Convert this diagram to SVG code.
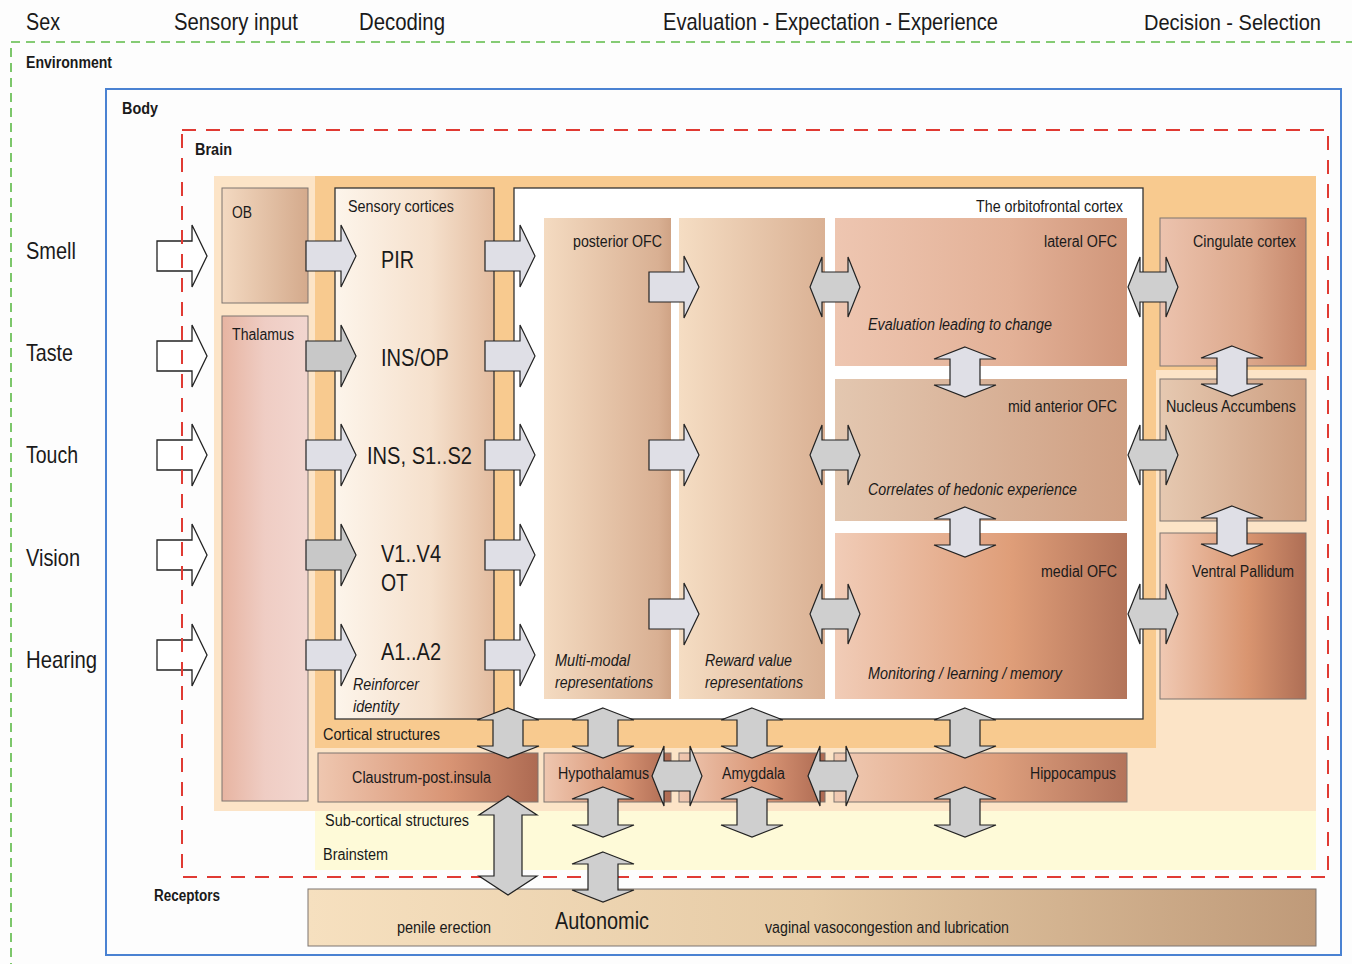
<svg xmlns="http://www.w3.org/2000/svg" xmlns:xlink="http://www.w3.org/1999/xlink" width="1352" height="964" viewBox="0 0 1352 964">
<style>
text{font-family:"Liberation Sans Narrow","Liberation Sans",Arial,sans-serif;fill:#1a1a1a}
.h{font-size:24px}
.b{font-size:16px;font-weight:bold}
.s{font-size:16px}
.m{font-size:23px}
.i{font-size:16px;font-style:italic}
.box{stroke:#7d7570;stroke-width:1}
.aw{fill:#ffffff;stroke:#222;stroke-width:1.3}
.al{fill:#dfdfe6;stroke:#222;stroke-width:1.2}
.ad{fill:#c8c8c8;stroke:#222;stroke-width:1.2}
.ag{fill:#cfcfcf;stroke:#222;stroke-width:1.2}
</style>
<defs>
<path id="ar" d="M0,-15 H35 V-31 L50,0 L35,31 V15 H0 Z"/>
<path id="dh" d="M0,0 L12,-30 V-15 H38 V-30 L50,0 L38,30 V15 H12 V30 Z"/>
<path id="dv" d="M0,0 L31,12 H15 V38 H31 L0,50 L-31,38 H-15 V12 H-31 Z"/>
<linearGradient id="gOB"><stop offset="0" stop-color="#f3d9c1"/><stop offset="1" stop-color="#d4aa8c"/></linearGradient>
<linearGradient id="gTh"><stop offset="0" stop-color="#e7b4a1"/><stop offset="0.5" stop-color="#efcdc4"/><stop offset="1" stop-color="#f2d6cf"/></linearGradient>
<linearGradient id="gSe"><stop offset="0" stop-color="#fdf5eb"/><stop offset="0.6" stop-color="#f5e0cc"/><stop offset="1" stop-color="#e3bc9f"/></linearGradient>
<linearGradient id="gPo"><stop offset="0" stop-color="#f4dbc1"/><stop offset="0.9" stop-color="#d9b093"/><stop offset="1" stop-color="#cfa385"/></linearGradient>
<linearGradient id="gRe"><stop offset="0" stop-color="#f5ddc3"/><stop offset="1" stop-color="#dab194"/></linearGradient>
<linearGradient id="gLa"><stop offset="0" stop-color="#eec6b1"/><stop offset="0.6" stop-color="#e3b197"/><stop offset="1" stop-color="#d0967a"/></linearGradient>
<linearGradient id="gMi"><stop offset="0" stop-color="#e3c7b0"/><stop offset="1" stop-color="#cf9f82"/></linearGradient>
<linearGradient id="gMe"><stop offset="0" stop-color="#f1ccb7"/><stop offset="0.6" stop-color="#df9e79"/><stop offset="1" stop-color="#b3745a"/></linearGradient>
<linearGradient id="gCi"><stop offset="0" stop-color="#ecc3ae"/><stop offset="0.6" stop-color="#dca88c"/><stop offset="1" stop-color="#c6876b"/></linearGradient>
<linearGradient id="gNu"><stop offset="0" stop-color="#e6c9b1"/><stop offset="1" stop-color="#cd9e80"/></linearGradient>
<linearGradient id="gVP"><stop offset="0" stop-color="#f0c9b3"/><stop offset="0.6" stop-color="#d99570"/><stop offset="1" stop-color="#ae6e55"/></linearGradient>
<linearGradient id="gSub"><stop offset="0" stop-color="#efc7b0"/><stop offset="0.6" stop-color="#d89474"/><stop offset="1" stop-color="#ad6a52"/></linearGradient>
<linearGradient id="gHi"><stop offset="0" stop-color="#f0cab3"/><stop offset="0.55" stop-color="#dea07e"/><stop offset="1" stop-color="#b3735b"/></linearGradient>
<linearGradient id="gAu"><stop offset="0" stop-color="#f6e0bf"/><stop offset="0.5" stop-color="#e6cba6"/><stop offset="1" stop-color="#bf9a79"/></linearGradient>
</defs>

<rect x="0" y="0" width="1352" height="964" fill="#fdfdfd"/>

<g id="environment">
<rect x="11" y="42" width="1400" height="1000" fill="none" stroke="#5dba47" stroke-width="1.6" stroke-dasharray="9,6"/>
<text class="b" x="26" y="68" textLength="86" lengthAdjust="spacingAndGlyphs">Environment</text>
</g>

<g id="headers">
<text class="h" x="26" y="30" textLength="34" lengthAdjust="spacingAndGlyphs">Sex</text>
<text class="h" x="174" y="30" textLength="124" lengthAdjust="spacingAndGlyphs">Sensory input</text>
<text class="h" x="359" y="30" textLength="86" lengthAdjust="spacingAndGlyphs">Decoding</text>
<text class="h" x="663" y="30" textLength="335" lengthAdjust="spacingAndGlyphs">Evaluation - Expectation - Experience</text>
<text x="1144" y="30" style="font-size:22px" textLength="177" lengthAdjust="spacingAndGlyphs">Decision - Selection</text>
</g>

<g id="senses">
<text class="h" x="26" y="259" textLength="50" lengthAdjust="spacingAndGlyphs">Smell</text>
<text class="h" x="26" y="361" textLength="47" lengthAdjust="spacingAndGlyphs">Taste</text>
<text class="h" x="26" y="463" textLength="52" lengthAdjust="spacingAndGlyphs">Touch</text>
<text class="h" x="26" y="566" textLength="54" lengthAdjust="spacingAndGlyphs">Vision</text>
<text class="h" x="26" y="668" textLength="71" lengthAdjust="spacingAndGlyphs">Hearing</text>
</g>

<g id="body">
<rect x="106" y="89" width="1235" height="866" fill="none" stroke="#4a82d2" stroke-width="2"/>
<text class="b" x="122" y="114" textLength="36" lengthAdjust="spacingAndGlyphs">Body</text>
<text class="b" x="154" y="901" textLength="66" lengthAdjust="spacingAndGlyphs">Receptors</text>
</g>

<g id="input-arrows">
<use href="#ar" class="aw" x="157" y="256"/>
<use href="#ar" class="aw" x="157" y="356"/>
<use href="#ar" class="aw" x="157" y="455"/>
<use href="#ar" class="aw" x="157" y="555"/>
<use href="#ar" class="aw" x="157" y="655"/>
</g>

<g id="brain">
<rect x="182" y="130" width="1146" height="747" fill="none" stroke="#e03a33" stroke-width="2" stroke-dasharray="14,10"/>
<text class="b" x="195" y="155" textLength="37" lengthAdjust="spacingAndGlyphs">Brain</text>
<rect x="214" y="176" width="1102" height="635" fill="#fce4c7"/>
<path d="M315,176 H1316 V370 H1156 V748 H315 Z" fill="#f8ca8f"/>
<rect x="315" y="811" width="1001" height="59" fill="#fefad8"/>
<text class="s" x="323" y="740" textLength="117" lengthAdjust="spacingAndGlyphs">Cortical structures</text>
<text class="s" x="325" y="826" textLength="144" lengthAdjust="spacingAndGlyphs">Sub-cortical structures</text>
<text class="s" x="323" y="860" textLength="65" lengthAdjust="spacingAndGlyphs">Brainstem</text>
</g>

<g id="ob">
<rect class="box" x="222" y="188" width="86" height="115" fill="url(#gOB)"/>
<text class="s" x="232" y="218" textLength="20" lengthAdjust="spacingAndGlyphs">OB</text>
</g>
<g id="thalamus">
<rect class="box" x="222" y="316" width="86" height="485" fill="url(#gTh)"/>
<text class="s" x="232" y="340" textLength="62" lengthAdjust="spacingAndGlyphs">Thalamus</text>
</g>

<g id="sensory-cortices">
<rect x="335" y="188" width="159" height="531" fill="url(#gSe)" stroke="#333" stroke-width="1.3"/>
<text class="s" x="348" y="212" textLength="106" lengthAdjust="spacingAndGlyphs">Sensory cortices</text>
<text class="m" x="381" y="268" textLength="33" lengthAdjust="spacingAndGlyphs">PIR</text>
<text class="m" x="381" y="366" textLength="68" lengthAdjust="spacingAndGlyphs">INS/OP</text>
<text class="m" x="367" y="464" textLength="105" lengthAdjust="spacingAndGlyphs">INS, S1..S2</text>
<text class="m" x="381" y="562" textLength="60" lengthAdjust="spacingAndGlyphs">V1..V4</text>
<text class="m" x="381" y="591" textLength="27" lengthAdjust="spacingAndGlyphs">OT</text>
<text class="m" x="381" y="660" textLength="60" lengthAdjust="spacingAndGlyphs">A1..A2</text>
<text class="i" x="353" y="690" textLength="66" lengthAdjust="spacingAndGlyphs">Reinforcer</text>
<text class="i" x="353" y="712" textLength="46" lengthAdjust="spacingAndGlyphs">identity</text>
</g>

<g id="orbitofrontal-cortex">
<rect x="514" y="188" width="629" height="531" fill="#ffffff" stroke="#333" stroke-width="1.3"/>
<text class="s" x="1123" y="212" text-anchor="end" textLength="147" lengthAdjust="spacingAndGlyphs">The orbitofrontal cortex</text>
</g>

<g id="posterior-ofc">
<rect x="544" y="218" width="127" height="481" fill="url(#gPo)"/>
<text class="s" x="573" y="247" textLength="89" lengthAdjust="spacingAndGlyphs">posterior OFC</text>
<text class="i" x="555" y="666" textLength="75" lengthAdjust="spacingAndGlyphs">Multi-modal</text>
<text class="i" x="555" y="688" textLength="98" lengthAdjust="spacingAndGlyphs">representations</text>
</g>
<g id="reward-value">
<rect x="679" y="218" width="146" height="481" fill="url(#gRe)"/>
<text class="i" x="705" y="666" textLength="87" lengthAdjust="spacingAndGlyphs">Reward value</text>
<text class="i" x="705" y="688" textLength="98" lengthAdjust="spacingAndGlyphs">representations</text>
</g>
<g id="lateral-ofc">
<rect x="835" y="218" width="292" height="148" fill="url(#gLa)"/>
<text class="s" x="1117" y="247" text-anchor="end" textLength="73" lengthAdjust="spacingAndGlyphs">lateral OFC</text>
<text class="i" x="868" y="330" textLength="184" lengthAdjust="spacingAndGlyphs">Evaluation leading to change</text>
</g>
<g id="mid-anterior-ofc">
<rect x="835" y="379" width="292" height="142" fill="url(#gMi)"/>
<text class="s" x="1117" y="412" text-anchor="end" textLength="109" lengthAdjust="spacingAndGlyphs">mid anterior OFC</text>
<text class="i" x="868" y="495" textLength="209" lengthAdjust="spacingAndGlyphs">Correlates of hedonic experience</text>
</g>
<g id="medial-ofc">
<rect x="835" y="533" width="292" height="166" fill="url(#gMe)"/>
<text class="s" x="1117" y="577" text-anchor="end" textLength="76" lengthAdjust="spacingAndGlyphs">medial OFC</text>
<text class="i" x="868" y="679" textLength="194" lengthAdjust="spacingAndGlyphs">Monitoring / learning / memory</text>
</g>

<g id="cingulate-cortex">
<rect class="box" x="1160" y="218" width="146" height="148" fill="url(#gCi)"/>
<text class="s" x="1193" y="247" textLength="103" lengthAdjust="spacingAndGlyphs">Cingulate cortex</text>
</g>
<g id="nucleus-accumbens">
<rect class="box" x="1160" y="379" width="146" height="142" fill="url(#gNu)"/>
<text class="s" x="1166" y="412" textLength="130" lengthAdjust="spacingAndGlyphs">Nucleus Accumbens</text>
</g>
<g id="ventral-pallidum">
<rect class="box" x="1160" y="533" width="146" height="166" fill="url(#gVP)"/>
<text class="s" x="1192" y="577" textLength="102" lengthAdjust="spacingAndGlyphs">Ventral Pallidum</text>
</g>

<g id="claustrum">
<rect class="box" x="318" y="753" width="220" height="49" fill="url(#gSub)"/>
<text class="s" x="352" y="783" textLength="139" lengthAdjust="spacingAndGlyphs">Claustrum-post.insula</text>
</g>
<g id="hypothalamus">
<rect class="box" x="544" y="753" width="127" height="49" fill="url(#gSub)"/>
<text class="s" x="558" y="779" textLength="91" lengthAdjust="spacingAndGlyphs">Hypothalamus</text>
</g>
<g id="amygdala">
<rect class="box" x="679" y="753" width="146" height="49" fill="url(#gSub)"/>
<text class="s" x="722" y="779" textLength="63" lengthAdjust="spacingAndGlyphs">Amygdala</text>
</g>
<g id="hippocampus">
<rect class="box" x="834" y="753" width="293" height="49" fill="url(#gHi)"/>
<text class="s" x="1030" y="779" textLength="86" lengthAdjust="spacingAndGlyphs">Hippocampus</text>
</g>

<g id="autonomic">
<rect class="box" x="308" y="889" width="1008" height="57" fill="url(#gAu)"/>
<text class="s" x="397" y="933" textLength="94" lengthAdjust="spacingAndGlyphs">penile erection</text>
<text class="m" x="555" y="929" textLength="94" lengthAdjust="spacingAndGlyphs">Autonomic</text>
<text class="s" x="765" y="933" textLength="244" lengthAdjust="spacingAndGlyphs">vaginal vasocongestion and lubrication</text>
</g>

<g id="connectors">
<use href="#ar" class="al" x="306" y="256"/>
<use href="#ar" class="ad" x="306" y="356"/>
<use href="#ar" class="al" x="306" y="455"/>
<use href="#ar" class="ad" x="306" y="555"/>
<use href="#ar" class="al" x="306" y="655"/>
<use href="#ar" class="al" x="485" y="256"/>
<use href="#ar" class="al" x="485" y="356"/>
<use href="#ar" class="al" x="485" y="455"/>
<use href="#ar" class="al" x="485" y="555"/>
<use href="#ar" class="al" x="485" y="655"/>
<use href="#ar" class="al" x="649" y="287"/>
<use href="#ar" class="al" x="649" y="455"/>
<use href="#ar" class="al" x="649" y="614"/>
<use href="#dh" class="ag" x="810" y="287"/>
<use href="#dh" class="ag" x="810" y="455"/>
<use href="#dh" class="ag" x="810" y="614"/>
<use href="#dh" class="ag" x="1128" y="287"/>
<use href="#dh" class="ag" x="1128" y="455"/>
<use href="#dh" class="ag" x="1128" y="614"/>
<use href="#dv" class="al" x="965" y="347"/>
<use href="#dv" class="al" x="965" y="507"/>
<use href="#dv" class="al" x="1232" y="346"/>
<use href="#dv" class="al" x="1232" y="506"/>
<use href="#dv" class="ag" x="508" y="708"/>
<use href="#dv" class="ag" x="603" y="708"/>
<use href="#dv" class="ag" x="752" y="708"/>
<use href="#dv" class="ag" x="965" y="708"/>
<use href="#dv" class="ag" x="603" y="787"/>
<use href="#dv" class="ag" x="752" y="787"/>
<use href="#dv" class="ag" x="965" y="787"/>
<use href="#dv" class="ag" x="603" y="852"/>
<use href="#dh" class="ag" x="652" y="776"/>
<use href="#dh" class="ag" x="808" y="776"/>
<path class="ag" d="M508,796 L537,815 H522 V876 H537 L508,895 L479,876 H494 V815 H479 Z"/>
</g>
</svg>
